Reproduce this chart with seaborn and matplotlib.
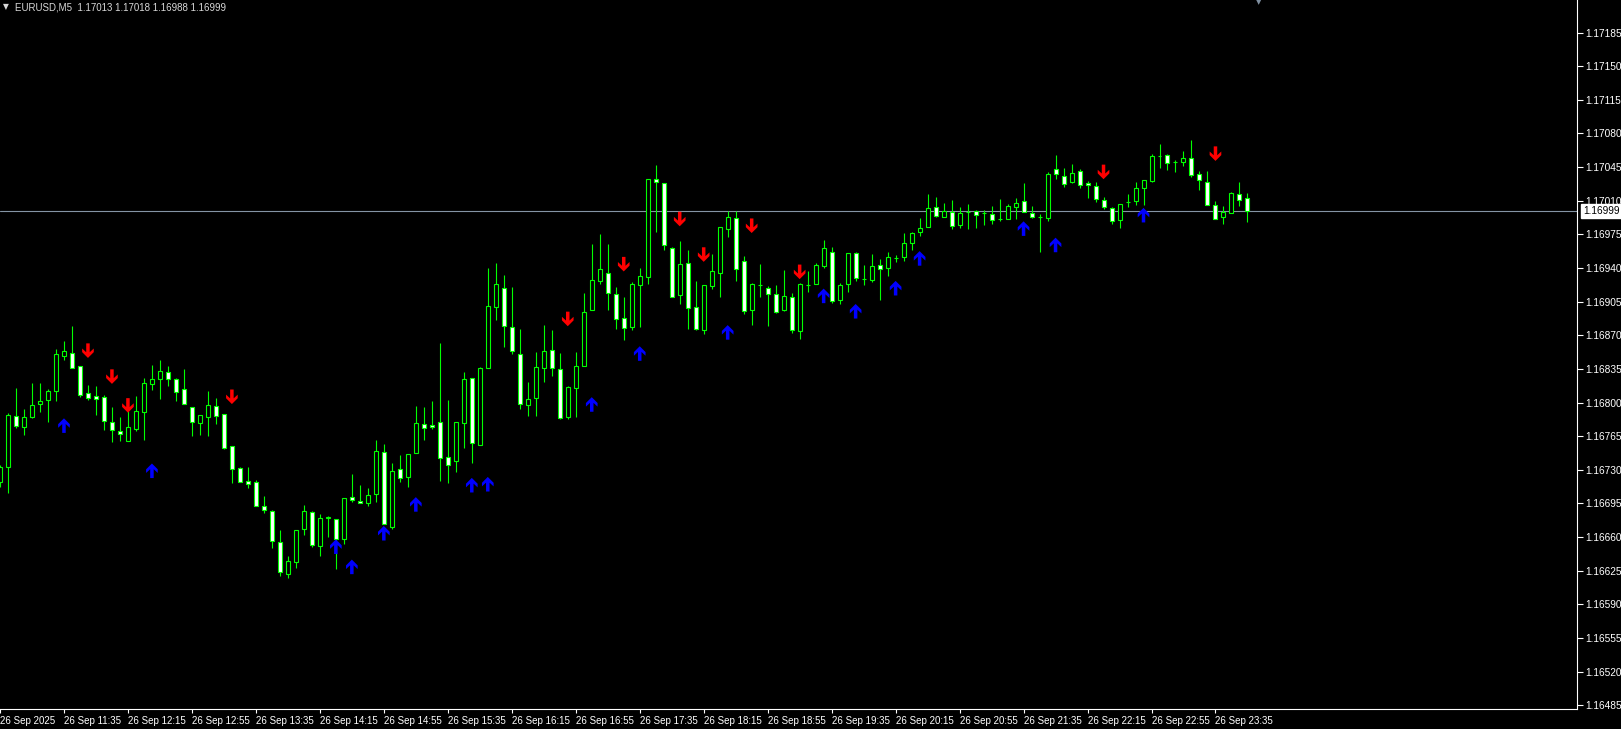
import numpy as np
import pandas as pd
import matplotlib
matplotlib.use("Agg")
import matplotlib.pyplot as plt
import matplotlib.transforms as mtransforms
from matplotlib.path import Path
from matplotlib.markers import MarkerStyle
import seaborn as sns

sns.set_style("dark")
plt.rcParams['font.family'] = ['Liberation Sans', 'DejaVu Sans']

symbol = "EURUSD,M5"

open_ = [1.16717, 1.16733, 1.16786, 1.16775, 1.16785, 1.16799, 1.16803, 1.16812, 1.16848, 1.16852,
         1.16838, 1.16810, 1.16807, 1.16806, 1.16780, 1.16770, 1.16760, 1.16772, 1.16790, 1.16819,
         1.16824, 1.16832, 1.16825, 1.16814, 1.16795, 1.16779, 1.16785, 1.16796, 1.16788, 1.16755,
         1.16732, 1.16718, 1.16717, 1.16692, 1.16687, 1.16655, 1.16622, 1.16634, 1.16668, 1.16686,
         1.16651, 1.16680, 1.16679, 1.16658, 1.16702, 1.16698, 1.16695, 1.16705, 1.16749, 1.16671,
         1.16731, 1.16723, 1.16747, 1.16778, 1.16777, 1.16780, 1.16743, 1.16739, 1.16779, 1.16826,
         1.16756, 1.16836, 1.16899, 1.16919, 1.16879, 1.16850, 1.16797, 1.16805, 1.16836, 1.16855,
         1.16835, 1.16785, 1.16815, 1.16838, 1.16896, 1.16926, 1.16935, 1.16913, 1.16888, 1.16879,
         1.16922, 1.16931, 1.17033, 1.17028, 1.16961, 1.16912, 1.16945, 1.16899, 1.16875, 1.16921,
         1.16935, 1.16981, 1.16992, 1.16947, 1.16896, 1.16922, 1.16919, 1.16913, 1.16896, 1.16910,
         1.16874, 1.16922, 1.16923, 1.16942, 1.16957, 1.16907, 1.16923, 1.16956, 1.16929, 1.16928,
         1.16943, 1.16940, 1.16950, 1.16951, 1.16966, 1.16977, 1.16983, 1.17003, 1.16993, 1.16998,
         1.16985, 1.16998, 1.16999, 1.16997, 1.16996, 1.16991, 1.16991, 1.17004, 1.17010, 1.16997,
         1.16993, 1.16992, 1.17043, 1.17036, 1.17029, 1.17041, 1.17028, 1.17025, 1.17011, 1.17002,
         1.16990, 1.17009, 1.17010, 1.17023, 1.17031, 1.17057, 1.17058, 1.17050, 1.17050, 1.17055,
         1.17038, 1.17030, 1.17006, 1.16993, 1.16997, 1.17017, 1.17013]

high = [1.16735, 1.16789, 1.16815, 1.16793, 1.16820, 1.16820, 1.16814, 1.16856, 1.16864, 1.16880,
        1.16838, 1.16818, 1.16817, 1.16808, 1.16795, 1.16785, 1.16791, 1.16807, 1.16826, 1.16839,
        1.16844, 1.16838, 1.16826, 1.16835, 1.16795, 1.16787, 1.16812, 1.16805, 1.16788, 1.16755,
        1.16733, 1.16733, 1.16719, 1.16703, 1.16688, 1.16667, 1.16640, 1.16667, 1.16693, 1.16687,
        1.16684, 1.16682, 1.16679, 1.16701, 1.16726, 1.16714, 1.16711, 1.16761, 1.16757, 1.16737,
        1.16745, 1.16746, 1.16796, 1.16795, 1.16802, 1.16862, 1.16803, 1.16780, 1.16832, 1.16826,
        1.16837, 1.16940, 1.16945, 1.16933, 1.16920, 1.16877, 1.16821, 1.16853, 1.16881, 1.16876,
        1.16852, 1.16817, 1.16853, 1.16914, 1.16965, 1.16975, 1.16965, 1.16920, 1.16910, 1.16925,
        1.16940, 1.17033, 1.17047, 1.17028, 1.16962, 1.16968, 1.16959, 1.16927, 1.16922, 1.16955,
        1.16983, 1.16999, 1.16999, 1.16953, 1.16924, 1.16944, 1.16921, 1.16922, 1.16938, 1.16914,
        1.16924, 1.16937, 1.16945, 1.16969, 1.16962, 1.16924, 1.16956, 1.16957, 1.16943, 1.16955,
        1.16949, 1.16957, 1.16954, 1.16976, 1.16977, 1.16992, 1.17017, 1.17014, 1.17008, 1.17011,
        1.17003, 1.17007, 1.17000, 1.17000, 1.17005, 1.17012, 1.17007, 1.17013, 1.17028, 1.17005,
        1.16996, 1.17040, 1.17058, 1.17044, 1.17048, 1.17043, 1.17031, 1.17030, 1.17014, 1.17004,
        1.17007, 1.17017, 1.17030, 1.17032, 1.17059, 1.17069, 1.17059, 1.17052, 1.17062, 1.17073,
        1.17041, 1.17041, 1.17010, 1.17005, 1.17019, 1.17030, 1.17018]

low = [1.16712, 1.16706, 1.16774, 1.16766, 1.16784, 1.16790, 1.16780, 1.16802, 1.16844, 1.16836,
       1.16806, 1.16803, 1.16787, 1.16771, 1.16759, 1.16760, 1.16760, 1.16770, 1.16761, 1.16813,
       1.16804, 1.16817, 1.16802, 1.16798, 1.16765, 1.16766, 1.16765, 1.16778, 1.16752, 1.16716,
       1.16717, 1.16711, 1.16692, 1.16685, 1.16649, 1.16619, 1.16617, 1.16628, 1.16662, 1.16650,
       1.16640, 1.16660, 1.16627, 1.16653, 1.16697, 1.16695, 1.16692, 1.16696, 1.16674, 1.16668,
       1.16717, 1.16712, 1.16747, 1.16761, 1.16772, 1.16718, 1.16716, 1.16728, 1.16753, 1.16737,
       1.16756, 1.16836, 1.16886, 1.16858, 1.16850, 1.16793, 1.16786, 1.16786, 1.16821, 1.16828,
       1.16783, 1.16783, 1.16785, 1.16838, 1.16896, 1.16923, 1.16896, 1.16877, 1.16865, 1.16876,
       1.16879, 1.16923, 1.16977, 1.16959, 1.16910, 1.16903, 1.16877, 1.16876, 1.16871, 1.16918,
       1.16910, 1.16972, 1.16927, 1.16892, 1.16881, 1.16910, 1.16880, 1.16893, 1.16895, 1.16872,
       1.16866, 1.16915, 1.16923, 1.16940, 1.16904, 1.16903, 1.16915, 1.16927, 1.16922, 1.16925,
       1.16907, 1.16932, 1.16946, 1.16947, 1.16959, 1.16973, 1.16983, 1.16993, 1.16993, 1.16981,
       1.16982, 1.16981, 1.16982, 1.16985, 1.16986, 1.16989, 1.16991, 1.16991, 1.16998, 1.16992,
       1.16957, 1.16989, 1.17033, 1.17024, 1.17028, 1.17023, 1.17013, 1.17009, 1.17001, 1.16986,
       1.16982, 1.17004, 1.17006, 1.17006, 1.17030, 1.17044, 1.17042, 1.17040, 1.17046, 1.17035,
       1.17021, 1.17006, 1.16991, 1.16986, 1.16997, 1.17005, 1.16988]

close = [1.16733, 1.16787, 1.16776, 1.16785, 1.16797, 1.16802, 1.16812, 1.16850, 1.16854, 1.16836,
         1.16808, 1.16805, 1.16804, 1.16781, 1.16771, 1.16767, 1.16775, 1.16791, 1.16820, 1.16824,
         1.16833, 1.16825, 1.16811, 1.16798, 1.16780, 1.16787, 1.16797, 1.16786, 1.16753, 1.16731,
         1.16717, 1.16715, 1.16692, 1.16688, 1.16656, 1.16624, 1.16635, 1.16667, 1.16687, 1.16652,
         1.16680, 1.16681, 1.16658, 1.16701, 1.16699, 1.16695, 1.16704, 1.16750, 1.16674, 1.16729,
         1.16722, 1.16746, 1.16779, 1.16774, 1.16775, 1.16742, 1.16735, 1.16780, 1.16825, 1.16758,
         1.16836, 1.16900, 1.16923, 1.16880, 1.16854, 1.16798, 1.16804, 1.16837, 1.16854, 1.16836,
         1.16784, 1.16816, 1.16838, 1.16894, 1.16928, 1.16939, 1.16914, 1.16887, 1.16878, 1.16923,
         1.16932, 1.17033, 1.17029, 1.16964, 1.16910, 1.16944, 1.16898, 1.16877, 1.16922, 1.16937,
         1.16983, 1.16993, 1.16939, 1.16895, 1.16923, 1.16922, 1.16913, 1.16894, 1.16911, 1.16875,
         1.16923, 1.16922, 1.16943, 1.16961, 1.16906, 1.16922, 1.16956, 1.16930, 1.16929, 1.16942,
         1.16939, 1.16951, 1.16950, 1.16966, 1.16976, 1.16982, 1.17002, 1.16994, 1.16999, 1.16984,
         1.16997, 1.16998, 1.16995, 1.16997, 1.16990, 1.16991, 1.17005, 1.17008, 1.16998, 1.16993,
         1.16993, 1.17038, 1.17038, 1.17027, 1.17039, 1.17026, 1.17026, 1.17012, 1.17004, 1.16989,
         1.17007, 1.17009, 1.17023, 1.17032, 1.17057, 1.17057, 1.17049, 1.17050, 1.17054, 1.17037,
         1.17032, 1.17006, 1.16991, 1.16998, 1.17018, 1.17011, 1.16999]

buy_idx = [8, 19, 42, 44, 48, 52, 59, 61, 74, 80, 91, 103, 107, 112, 115, 128, 132, 143]
buy_price = [1.16776, 1.16729, 1.16650, 1.16629, 1.16664, 1.16694, 1.16714, 1.16715, 1.16798,
             1.16851, 1.16873, 1.16911, 1.16895, 1.16919, 1.16950, 1.16981, 1.16964, 1.16995]
sell_idx = [11, 14, 16, 29, 71, 78, 85, 88, 94, 100, 138, 152]
sell_price = [1.16854, 1.16827, 1.16797, 1.16806, 1.16887, 1.16944, 1.16991, 1.16954,
              1.16984, 1.16936, 1.17040, 1.17059]

x_tick_idx = [0, 8, 16, 24, 32, 40, 48, 56, 64, 72, 80, 88, 96, 104, 112, 120, 128, 136, 144, 152]
x_tick_labels = ["26 Sep 2025", "26 Sep 11:35", "26 Sep 12:15", "26 Sep 12:55", "26 Sep 13:35",
                 "26 Sep 14:15", "26 Sep 14:55", "26 Sep 15:35", "26 Sep 16:15", "26 Sep 16:55",
                 "26 Sep 17:35", "26 Sep 18:15", "26 Sep 18:55", "26 Sep 19:35", "26 Sep 20:15",
                 "26 Sep 20:55", "26 Sep 21:35", "26 Sep 22:15", "26 Sep 22:55", "26 Sep 23:35"]
y_ticks = [1.16485, 1.16520, 1.16555, 1.16590, 1.16625, 1.16660, 1.16695, 1.16730, 1.16765,
           1.16800, 1.16835, 1.16870, 1.16905, 1.16940, 1.16975, 1.17010, 1.17045, 1.17080,
           1.17115, 1.17150, 1.17185]
last_price = close[-1]

# ---------------------------------------------------------------
W, H = 1621, 729
fig = plt.figure(figsize=(W / 100, H / 100), dpi=100)
fig.patch.set_facecolor("black")
ax = fig.add_axes([0, 20 / H, 1577 / W, 709 / H])
ax.set_facecolor("black")
ax.grid(False)

df = pd.DataFrame({"open": open_, "high": high, "low": low, "close": close})
df["idx"] = np.arange(len(df))
df["bottom"] = df[["open", "close"]].min(axis=1)
df["height"] = (df["close"] - df["open"]).abs()
df["face"] = np.where(df["close"] < df["open"], "white", "black")

GREEN = "#00FF00"
ax.vlines(df["idx"], df["low"], df["high"], colors=GREEN, linewidth=0.8, zorder=2)
ax.bar(df["idx"], df["height"], bottom=df["bottom"], width=0.5,
       color=df["face"], edgecolor=GREEN, linewidth=0.8, zorder=3)

# current price line
ax.axhline(last_price, color="#8494A4", linewidth=0.8, zorder=1)

# arrows (bold chevron heads, like MT4 Wingdings arrows)
up_path = Path([(0, 1), (0.8, 0.2), (0.8, -0.3), (0.24, 0.22), (0.24, -1),
                (-0.24, -1), (-0.24, 0.22), (-0.8, -0.3), (-0.8, 0.2), (0, 1)], closed=True)
down_path = Path([(x, -y) for x, y in up_path.vertices], closed=True)
sns.scatterplot(x=buy_idx, y=buy_price, marker=MarkerStyle(up_path), s=110,
                color="#0000FF", edgecolor="none", linewidth=0, ax=ax, legend=False, zorder=4)
sns.scatterplot(x=sell_idx, y=sell_price, marker=MarkerStyle(down_path), s=110,
                color="#FF0000", edgecolor="none", linewidth=0, ax=ax, legend=False, zorder=4)

ax.set_xlim(0.084, 197.21)
ax.set_ylim(1.164811, 1.172189)

for s in ["top", "left"]:
    ax.spines[s].set_visible(False)
for s in ["right", "bottom"]:
    ax.spines[s].set_color("white")
    ax.spines[s].set_linewidth(0.8)

ax.set_xticks(x_tick_idx)
ax.set_xticklabels(x_tick_labels, ha="left")
ax.tick_params(axis="x", direction="out", length=3, width=0.8, colors="white",
               labelsize=7, pad=2, bottom=True)
ax.set_yticks(y_ticks)
ax.set_yticklabels([f"{v:.5f}" for v in y_ticks])
ax.yaxis.tick_right()
ax.tick_params(axis="y", direction="out", length=4, width=0.8, colors="white",
               labelsize=7.3, pad=2, right=True, left=False, labelleft=False, labelright=True)

# price box on the scale
trans = mtransforms.blended_transform_factory(ax.transAxes, ax.transData)
ax.annotate(f"{last_price:.5f}", xy=(1.0, last_price), xycoords=trans,
            xytext=(4.5, 0), textcoords="offset points", ha="left", va="center",
            fontsize=7.3, color="black", annotation_clip=False, zorder=10,
            bbox=dict(boxstyle="square,pad=0.2", facecolor="white", edgecolor="white"))

# header
fig.text(3 / W, 1 - 7 / H, "▼", fontsize=5.5, color="#D8D8D8", va="center", ha="left",
         family=["DejaVu Sans"])
fig.text(15 / W, 1 - 7 / H,
         f"{symbol}  {open_[-1]:.5f} {high[-1]:.5f} {low[-1]:.5f} {close[-1]:.5f}",
         fontsize=7, color="#D8D8D8", va="center", ha="left")
# chart shift marker
fig.text(1259 / W, 1 - 2 / H, "▼", fontsize=5, color="#7F8FA0", va="center", ha="center",
         family=["DejaVu Sans"])

fig.savefig("out.png", dpi=100, facecolor="black")
